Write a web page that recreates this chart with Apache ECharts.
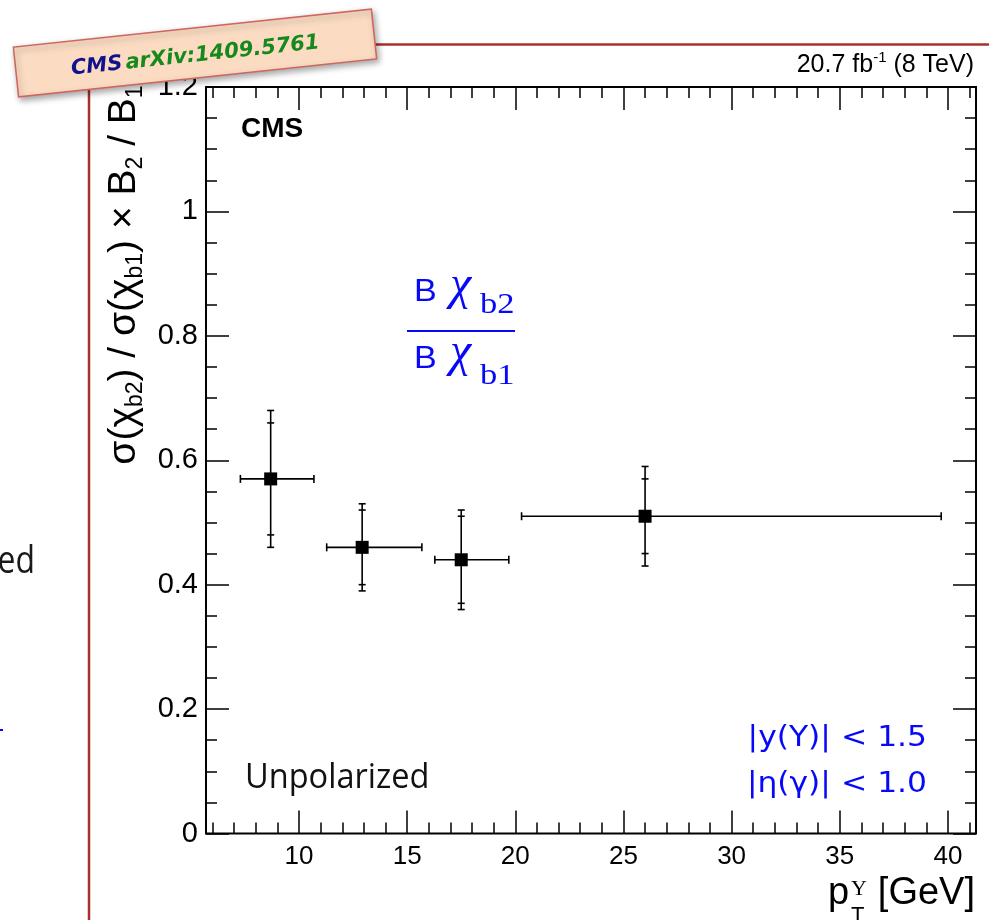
<!DOCTYPE html>
<html>
<head>
<meta charset="utf-8">
<script src="https://cdn.jsdelivr.net/npm/echarts@6/dist/echarts.min.js"></script>
<style>
  html, body { margin: 0; padding: 0; background: #ffffff; }
  #chart { width: 989px; height: 920px; }
</style>
</head>
<body>
<div id="chart"></div>
<script>
// chi_b2 / chi_b1 cross-section ratio versus pT of the Upsilon
const binCenter = [8.69, 12.92, 17.50, 26.0];
const binLow    = [7.29, 11.28, 16.28, 20.29];
const binHigh   = [10.69, 15.68, 19.70, 39.69];
const ratio     = [0.57, 0.46, 0.44, 0.51];
const statErr   = [0.09, 0.06, 0.07, 0.06];
const totalErr  = [0.11, 0.07, 0.08, 0.08];

// axis ticks
const xMajorTicks = [10, 15, 20, 25, 30, 35, 40];
const xMinorTicks = [6, 7, 8, 9, 10, 11, 12, 13, 14, 15, 16, 17, 18, 19, 20, 21, 22, 23, 24,
                     25, 26, 27, 28, 29, 30, 31, 32, 33, 34, 35, 36, 37, 38, 39, 40, 41];
const xRange = [5.7, 41.3];
const yRange = [0, 1.2];
const yStep = 0.2;

const SANS = 'Liberation Sans';
const SERIF = 'Liberation Serif';
const BLUE = '#0808f8';

// offset from the "middle" text baseline to the alphabetic baseline, per font
const MID = { 'Liberation Sans': 0.3465, 'Liberation Serif': 0.3375, 'Open Sans': 0.388, 'DejaVu Sans': 0.346 };

function txt(str, x, base, size, family, extra, elExtra) {
  return Object.assign({
    type: 'text', x: x, y: base - MID[family] * size, z: 20,
    style: Object.assign({
      text: str, fontSize: size, fontFamily: family, fill: '#000',
      align: 'left', verticalAlign: 'middle'
    }, extra || {})
  }, elExtra || {});
}

const tickStyle = { color: '#000', width: 1.5 };
const xBase = {
  type: 'value', min: xRange[0], max: xRange[1],
  splitLine: { show: false },
  axisLine: { show: false, onZero: false }
};
const yBase = {
  type: 'value', min: yRange[0], max: yRange[1], interval: yStep,
  splitLine: { show: false },
  axisLine: { show: false, onZero: false }
};

const errData = binCenter.map((x, i) => [x, ratio[i], binLow[i], binHigh[i], statErr[i], totalErr[i]]);
const pointData = binCenter.map((x, i) => [x, ratio[i]]);

function renderErrors(params, api) {
  const xc = api.value(0), y = api.value(1);
  const xl = api.value(2), xh = api.value(3);
  const s = api.value(4), t = api.value(5);
  const c = api.coord([xc, y]);
  const l = api.coord([xl, y]);
  const h = api.coord([xh, y]);
  const tTop = api.coord([xc, y + t])[1];
  const tBot = api.coord([xc, y - t])[1];
  const sTop = api.coord([xc, y + s])[1];
  const sBot = api.coord([xc, y - s])[1];
  const style = { stroke: '#000', lineWidth: 1.6 };
  const seg = (x1, y1, x2, y2) => ({ type: 'line', shape: { x1, y1, x2, y2 }, style });
  const cw = 3.5;
  return {
    type: 'group',
    children: [
      seg(l[0], c[1], h[0], c[1]),
      seg(l[0], c[1] - 4, l[0], c[1] + 4),
      seg(h[0], c[1] - 4, h[0], c[1] + 4),
      seg(c[0], tTop, c[0], tBot),
      seg(c[0] - cw, tTop, c[0] + cw, tTop),
      seg(c[0] - cw, tBot, c[0] + cw, tBot),
      seg(c[0] - cw, sTop, c[0] + cw, sTop),
      seg(c[0] - cw, sBot, c[0] + cw, sBot)
    ]
  };
}

const chart = echarts.init(document.getElementById('chart'), null, { renderer: 'canvas' });

const option = {
  animation: false,
  backgroundColor: '#ffffff',
  grid: {
    left: 206, right: 13, top: 87, bottom: 86.5,
    show: true, borderColor: '#000', borderWidth: 2,
    backgroundColor: 'transparent', containLabel: false, outerBoundsMode: 'none'
  },
  xAxis: [
    Object.assign({}, xBase, {
      position: 'bottom',
      axisTick: { inside: true, length: 23, customValues: xMajorTicks, lineStyle: tickStyle },
      axisLabel: { customValues: xMajorTicks, fontSize: 26, fontFamily: SANS, color: '#000', margin: 10 }
    }),
    Object.assign({}, xBase, {
      position: 'bottom',
      axisTick: { inside: true, length: 11, customValues: xMinorTicks, lineStyle: tickStyle },
      axisLabel: { show: false }
    }),
    Object.assign({}, xBase, {
      position: 'top',
      axisTick: { inside: true, length: 23, customValues: xMajorTicks, lineStyle: tickStyle },
      axisLabel: { show: false }
    }),
    Object.assign({}, xBase, {
      position: 'top',
      axisTick: { inside: true, length: 11, customValues: xMinorTicks, lineStyle: tickStyle },
      axisLabel: { show: false }
    })
  ],
  yAxis: [
    Object.assign({}, yBase, {
      position: 'left',
      axisTick: { inside: true, length: 23, lineStyle: tickStyle },
      minorTick: { show: true, splitNumber: 4, length: 11, lineStyle: tickStyle },
      axisLabel: { fontSize: 29, fontFamily: SANS, color: '#000', margin: 8 }
    }),
    Object.assign({}, yBase, {
      position: 'right',
      axisTick: { inside: true, length: 23, lineStyle: tickStyle },
      minorTick: { show: true, splitNumber: 4, length: 11, lineStyle: tickStyle },
      axisLabel: { show: false }
    })
  ],
  series: [
    {
      type: 'custom', name: 'errors', xAxisIndex: 0, yAxisIndex: 0,
      renderItem: renderErrors, data: errData, z: 3,
      encode: { x: [0, 2, 3], y: 1 }
    },
    {
      type: 'scatter', name: 'ratio', xAxisIndex: 0, yAxisIndex: 0,
      data: pointData, symbol: 'rect', symbolSize: 13,
      itemStyle: { color: '#000', opacity: 1 }, z: 4
    }
  ],
  graphic: [
    // slide frame lines
    { type: 'line', z: 1, shape: { x1: 88, y1: 44.5, x2: 989, y2: 44.5 }, style: { stroke: '#a8302c', lineWidth: 2.5 } },
    { type: 'line', z: 1, shape: { x1: 89, y1: 44.5, x2: 89, y2: 920 }, style: { stroke: '#a8302c', lineWidth: 2.5 } },
    // clipped text fragments at the slide's left edge
    txt('ed', 35, 577, 38, 'Open Sans', { align: 'right', fill: '#1a1a1a' }, { scaleX: 0.84 }),
    { type: 'rect', z: 20, shape: { x: 0, y: 729, width: 3, height: 2 }, style: { fill: BLUE } },

    // reference stamp
    {
      type: 'group', x: 195, y: 53, rotation: 0.106, z: 50,
      children: [
        {
          type: 'rect', z: 50, shape: { x: -180, y: -25, width: 360, height: 50 },
          style: {
            fill: '#fbdcc3', stroke: '#d0645f', lineWidth: 1.5,
            shadowBlur: 6, shadowOffsetX: 2, shadowOffsetY: 3, shadowColor: 'rgba(0,0,0,0.35)'
          }
        },
        {
          type: 'text', z: 51, x: 0, y: 3,
          style: {
            text: '{c|CMS} {a|arXiv:1409.5761}',
            align: 'center', verticalAlign: 'middle',
            rich: {
              c: { fill: '#12128c', fontSize: 21, fontFamily: 'DejaVu Sans', fontWeight: 'bold', fontStyle: 'italic' },
              a: { fill: '#15891b', fontSize: 21, fontFamily: 'DejaVu Sans', fontWeight: 'bold', fontStyle: 'italic' }
            }
          }
        }
      ]
    },

    // luminosity label
    {
      type: 'text', z: 20, x: 974, y: 65,
      style: {
        text: '{m|20.7 fb}{s|-1}{m| (8 TeV)}',
        align: 'right', verticalAlign: 'middle',
        rich: {
          m: { fontSize: 25, fontFamily: SANS, fill: '#000', lineHeight: 30, verticalAlign: 'middle' },
          s: { fontSize: 15, fontFamily: SANS, fill: '#000', lineHeight: 15, verticalAlign: 'top' }
        }
      }
    },

    // CMS label
    txt('CMS', 241, 139, 28, SANS, { fontWeight: 'bold' }),

    // y axis title
    {
      type: 'text', z: 20, x: 124, y: 275, rotation: Math.PI / 2,
      style: {
        text: '{m|σ(χ}{s|b2}{m|) / σ(χ}{s|b1}{m|) × B}{s|2}{m| / B}{s|1}',
        align: 'center', verticalAlign: 'middle',
        rich: {
          m: { fontSize: 39, fontFamily: SANS, fill: '#000', lineHeight: 46, verticalAlign: 'middle' },
          s: { fontSize: 23, fontFamily: SANS, fill: '#000', lineHeight: 23, verticalAlign: 'bottom' }
        }
      }
    },

    // x axis title
    txt('p', 828, 907, 38, SANS),
    txt('Υ', 851, 897, 22, SERIF),
    txt('T', 851, 924, 22, SANS),
    txt('[GeV]', 975, 907, 38, SANS, { align: 'right' }),

    // branching-fraction ratio
    txt('B', 414, 303, 31, SANS, { fill: BLUE }, { scaleX: 1.1 }),
    txt('χ', 450, 303, 48, SERIF, { fill: BLUE, fontStyle: 'italic' }),
    txt('b2', 480, 315, 30, SERIF, { fill: BLUE }, { scaleX: 1.15 }),
    { type: 'line', z: 20, shape: { x1: 407, y1: 331, x2: 515, y2: 331 }, style: { stroke: BLUE, lineWidth: 2.2 } },
    txt('B', 414, 370, 31, SANS, { fill: BLUE }, { scaleX: 1.1 }),
    txt('χ', 450, 370, 48, SERIF, { fill: BLUE, fontStyle: 'italic' }),
    txt('b1', 480, 386, 30, SERIF, { fill: BLUE }, { scaleX: 1.15 }),

    // kinematic selection
    txt('|y(Υ)| < 1.5', 927, 748, 28, 'DejaVu Sans', { fill: BLUE, align: 'right' }, { scaleX: 1.12 }),
    txt('|η(γ)| < 1.0', 927, 794, 28, 'DejaVu Sans', { fill: BLUE, align: 'right' }, { scaleX: 1.12 }),

    // polarization scenario
    txt('Unpolarized', 245, 791.7, 35, 'Open Sans', { fill: '#111' }, { scaleX: 0.93 })
  ]
};

chart.setOption(option);
</script>
</body>
</html>
